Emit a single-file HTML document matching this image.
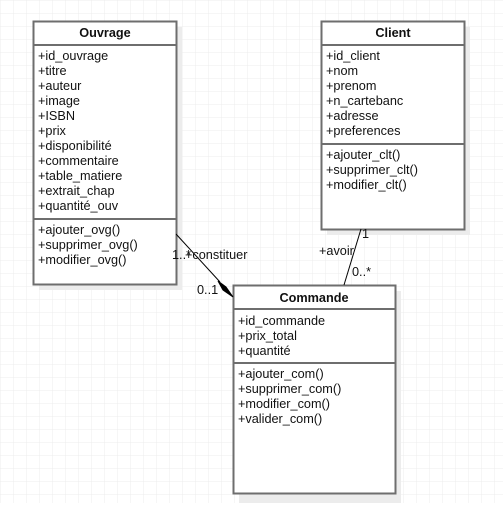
<!DOCTYPE html>
<html><head><style>
html,body{margin:0;padding:0;background:#fff;}
svg text{font-family:"Liberation Sans",Arial,sans-serif;font-size:12.7px;fill:#111;}
</style></head><body>
<svg width="503" height="503" viewBox="0 0 503 503" xmlns="http://www.w3.org/2000/svg">
<defs>
<pattern id="g" width="13" height="13" patternUnits="userSpaceOnUse">
<path d="M13 0H0V13" fill="none" stroke="#ececec" stroke-width="1"/>
</pattern>
</defs>
<rect width="503" height="503" fill="url(#g)"/>
<rect x="39" y="27" width="143" height="263" fill="#ececec"/>
<rect x="327" y="27" width="143" height="208" fill="#ececec"/>
<rect x="239" y="291" width="162" height="212" fill="#ececec"/>
<rect x="33.5" y="21.5" width="143" height="263" fill="#fff" stroke="#6e6e6e" stroke-width="2"/>
<line x1="33" y1="45" x2="177" y2="45" stroke="#6e6e6e" stroke-width="2"/>
<line x1="33" y1="219" x2="177" y2="219" stroke="#6e6e6e" stroke-width="2"/>
<text x="105" y="37" text-anchor="middle" font-weight="bold">Ouvrage</text>
<text x="38" y="60">+id_ouvrage</text>
<text x="38" y="75">+titre</text>
<text x="38" y="90">+auteur</text>
<text x="38" y="105">+image</text>
<text x="38" y="120">+ISBN</text>
<text x="38" y="135">+prix</text>
<text x="38" y="150">+disponibilité</text>
<text x="38" y="165">+commentaire</text>
<text x="38" y="180">+table_matiere</text>
<text x="38" y="195">+extrait_chap</text>
<text x="38" y="210">+quantité_ouv</text>
<text x="38" y="234">+ajouter_ovg()</text>
<text x="38" y="249">+supprimer_ovg()</text>
<text x="38" y="264">+modifier_ovg()</text>
<rect x="321.5" y="21.5" width="143" height="208" fill="#fff" stroke="#6e6e6e" stroke-width="2"/>
<line x1="321" y1="45" x2="465" y2="45" stroke="#6e6e6e" stroke-width="2"/>
<line x1="321" y1="144" x2="465" y2="144" stroke="#6e6e6e" stroke-width="2"/>
<text x="393" y="37" text-anchor="middle" font-weight="bold">Client</text>
<text x="326" y="60">+id_client</text>
<text x="326" y="75">+nom</text>
<text x="326" y="90">+prenom</text>
<text x="326" y="105">+n_cartebanc</text>
<text x="326" y="120">+adresse</text>
<text x="326" y="135">+preferences</text>
<text x="326" y="159">+ajouter_clt()</text>
<text x="326" y="174">+supprimer_clt()</text>
<text x="326" y="189">+modifier_clt()</text>
<rect x="233.5" y="285.5" width="162" height="208" fill="#fff" stroke="#6e6e6e" stroke-width="2"/>
<line x1="233" y1="309" x2="396" y2="309" stroke="#6e6e6e" stroke-width="2"/>
<line x1="233" y1="363" x2="396" y2="363" stroke="#6e6e6e" stroke-width="2"/>
<text x="314" y="302" text-anchor="middle" font-weight="bold">Commande</text>
<text x="238" y="325">+id_commande</text>
<text x="238" y="340">+prix_total</text>
<text x="238" y="355">+quantité</text>
<text x="238" y="378">+ajouter_com()</text>
<text x="238" y="393">+supprimer_com()</text>
<text x="238" y="408">+modifier_com()</text>
<text x="238" y="423">+valider_com()</text>
<line x1="176" y1="234" x2="220" y2="282" stroke="#000" stroke-width="1"/>
<polygon points="233,297 226,287 218,281 223,290" fill="#000" stroke="#000"/>
<line x1="361" y1="229" x2="344" y2="285" stroke="#000" stroke-width="1"/>
<text x="172" y="259">1..*</text>
<text x="185" y="259">+constituer</text>
<text x="197" y="294">0..1</text>
<text x="319" y="255">+avoir</text>
<text x="362" y="238">1</text>
<text x="352" y="276">0..*</text>
</svg>
</body></html>
